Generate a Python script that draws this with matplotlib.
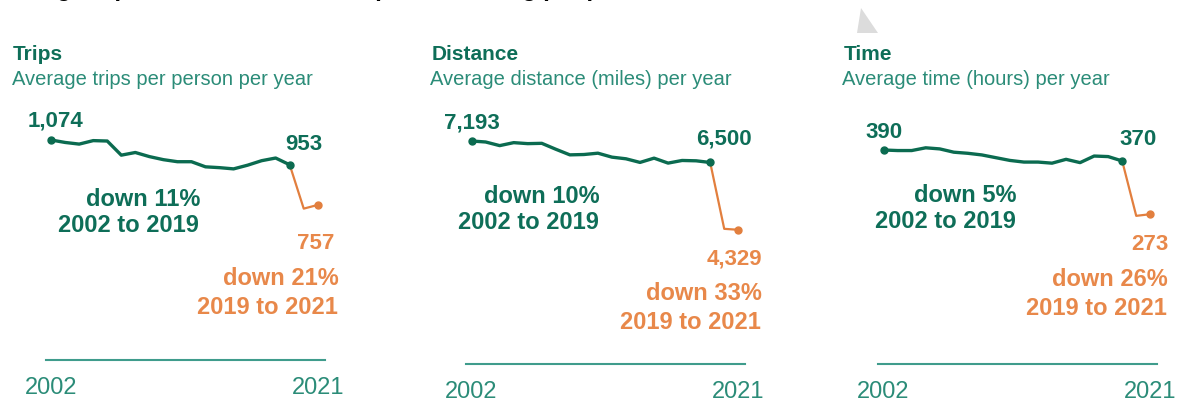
import matplotlib
matplotlib.use("Agg")
import matplotlib.pyplot as plt
from matplotlib.patches import Polygon

plt.rcParams["font.family"] = ["Liberation Sans", "DejaVu Sans"]

# data
years = list(range(2002, 2022))
trips = [1074, 1062, 1054, 1071, 1069, 1000, 1013, 993, 978, 968,
         968, 943, 939, 933, 951, 973, 986, 953, 739, 757]
distance = [7193, 7161, 7044, 7140, 7108, 7118, 6927, 6746, 6757, 6800,
            6672, 6619, 6502, 6640, 6480, 6565, 6554, 6500, 4360, 4329]
time_hours = [390, 389, 389, 394, 392, 386, 384, 381, 376, 371,
              368, 368, 366, 373, 367, 379, 378, 370, 270, 273]

titles = ["Trips", "Distance", "Time"]
subtitles = ["Average trips per person per year",
             "Average distance (miles) per year",
             "Average time (hours) per year"]
first_labels = ["1,074", "7,193", "390"]
pre_labels = ["953", "6,500", "370"]
post_labels = ["757", "4,329", "273"]
pre_notes = ["down 11%\n2002 to 2019", "down 10%\n2002 to 2019", "down 5%\n2002 to 2019"]
post_notes = ["down 21%\n2019 to 2021", "down 33%\n2019 to 2021", "down 26%\n2019 to 2021"]
tick_years = [2002, 2021]

GREEN = "#0b6b50"
GREEN_TXT = "#0e6e58"
TEAL = "#2b8c78"
BASE = "#3f9c8c"
ORANGE = "#e27f3e"
ORANGE_TXT = "#e8884a"

W, H = 1182, 407
fig = plt.figure(figsize=(W / 100, H / 100), dpi=100)


def ftext(x, y, s, **kw):
    # place text by pixel position (y measured from the top)
    return fig.text(x / W, 1 - y / H, s, **kw)


# layout per panel (pixels)
ax_left = [45.5, 466, 878]
ax_top = [140, 141, 150]
ax_bottom = [360, 364, 364]
ax_width = 279
first_xy = [(55, 126), (472, 128), (884, 138)]
pre_xy = [(304, 150), (724, 145), (1138, 145)]
pre_note_xy = [(200, 206), (600, 203), (1017, 202)]
post_xy = [(334, 249), (762, 265), (1168, 250)]
post_note_xy = [(339, 285), (762, 300), (1168, 286)]

series = [trips, distance, time_hours]

for i, values in enumerate(series):
    b = ax_bottom[i]
    ax = fig.add_axes([ax_left[i] / W, 1 - b / H, ax_width / W, (b - ax_top[i]) / H])
    ax.set_xlim(2001.6, 2021.48)
    ax.set_ylim(0, values[0])
    n = years.index(2019)
    ax.plot(years[:n + 1], values[:n + 1], color=GREEN, lw=2.4,
            solid_joinstyle="round", clip_on=False)
    ax.plot(years[n:], values[n:], color=ORANGE, lw=1.6, clip_on=False)
    ax.plot([years[0], years[n]], [values[0], values[n]], "o", color=GREEN, ms=5, clip_on=False)
    ax.plot(years[-1], values[-1], "o", color=ORANGE, ms=5, clip_on=False)

    for s in ["top", "left", "right"]:
        ax.spines[s].set_visible(False)
    ax.spines["bottom"].set_color(BASE)
    ax.spines["bottom"].set_linewidth(1.5)
    ax.set_yticks([])
    ax.set_xticks(tick_years)
    ax.set_xticklabels([str(t) for t in tick_years])
    ax.tick_params(axis="x", length=0, pad=12.5, labelsize=17, labelcolor=TEAL)
    ax.patch.set_alpha(0)

    x0 = ax_left[i] - 33 if i == 0 else ax_left[i] - 34.5
    ftext(x0, 60, titles[i], fontsize=15, fontweight="bold", color=GREEN_TXT, va="baseline")
    ftext(x0 - 1, 85, subtitles[i], fontsize=14.5, color=TEAL, va="baseline")

    ftext(*first_xy[i], first_labels[i], fontsize=16, fontweight="bold", color=GREEN_TXT,
          ha="center", va="baseline")
    ftext(*pre_xy[i], pre_labels[i], fontsize=16, fontweight="bold", color=GREEN_TXT,
          ha="center", va="baseline")
    l1, l2 = pre_notes[i].split("\n")
    px, py = pre_note_xy[i]
    ftext(px, py, l1, fontsize=17, fontweight="bold", color=GREEN_TXT, ha="right", va="baseline")
    ftext(px - 1, py + 26, l2, fontsize=17, fontweight="bold", color=GREEN_TXT, ha="right", va="baseline")

    ftext(*post_xy[i], post_labels[i], fontsize=16, fontweight="bold", color=ORANGE_TXT,
          ha="right", va="baseline")
    l1, l2 = post_notes[i].split("\n")
    px, py = post_note_xy[i]
    ftext(px, py, l1, fontsize=17, fontweight="bold", color=ORANGE_TXT, ha="right", va="baseline")
    ftext(px - 1, py + 29, l2, fontsize=17, fontweight="bold", color=ORANGE_TXT, ha="right", va="baseline")

# headline cut off by the top edge, only descender tips show
ftext(-8, -4, "Average trips, distance and time spent travelling per person",
      fontsize=17, fontweight="bold", color="black", va="baseline")

# small grey triangle near the top
tri = Polygon([(861 / W, 1 - 8 / H), (857 / W, 1 - 33 / H), (878 / W, 1 - 33 / H)],
              closed=True, transform=fig.transFigure, color="#dcdcdc", lw=0)
fig.patches.append(tri)

fig.savefig("out.png", dpi=100)
